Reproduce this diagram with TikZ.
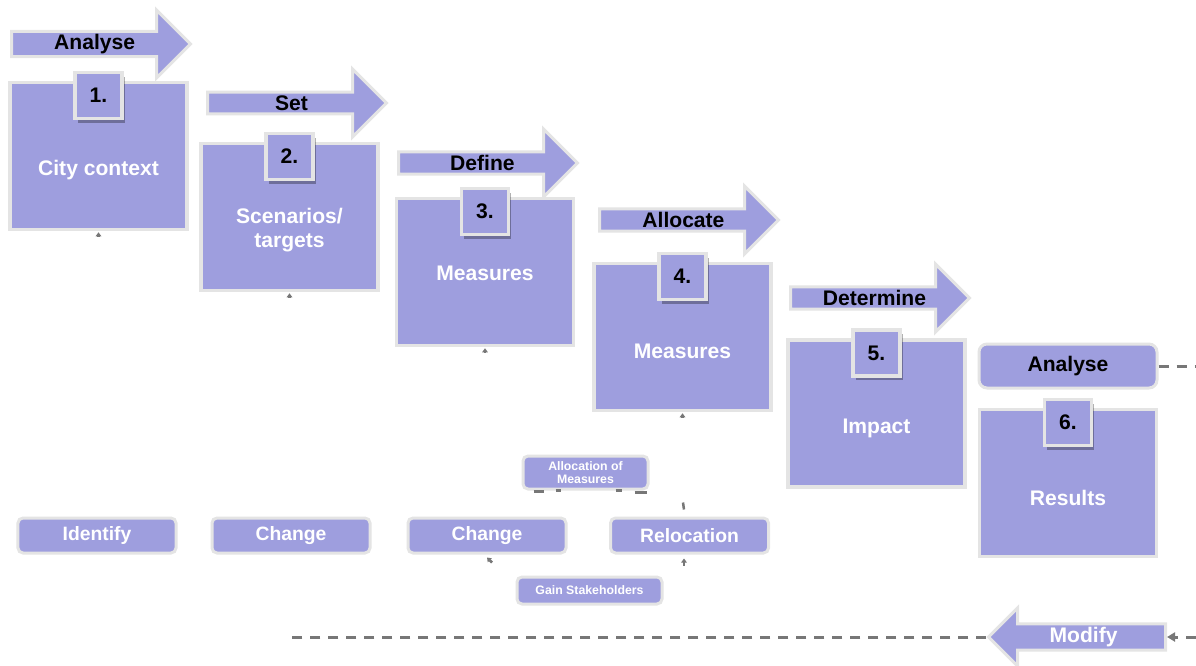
\documentclass[tikz,border=0pt]{standalone}
\usepackage{fontspec}
\setmainfont{Liberation Sans}
\usetikzlibrary{shapes.arrows,shadows,arrows.meta,positioning}
\definecolor{lav}{HTML}{9E9EDE}
\definecolor{rim}{HTML}{E4E4E4}
\definecolor{dashgray}{HTML}{777777}

\begin{document}
\begin{tikzpicture}
  [x=0.2mm,y=-0.2mm,
  stage/.style={rectangle,draw=rim,fill=lav,line width=0.7mm,
                inner sep=0pt,minimum width=35.4mm,minimum height=29.4mm},
  number/.style={rectangle,draw=rim,fill=lav,line width=0.7mm,
                 inner sep=0pt,minimum width=9.4mm,minimum height=9.2mm,
                 font=\bfseries\fontsize{12}{14}\selectfont,
                 drop shadow={shadow xshift=0.5mm,shadow yshift=-0.8mm,
                              fill=black,opacity=0.3}},
  stagetext/.style={text=white,align=center,
                    font=\bfseries\fontsize{12}{14}\selectfont},
  action/.style={single arrow,draw=rim,fill=lav,line width=0.6mm,
                 inner sep=0pt,minimum height=35.8mm,minimum width=13.6mm,
                 single arrow head extend=3.8mm,anchor=tail,
                 font=\bfseries\fontsize{12}{14}\selectfont},
  task/.style={rectangle,rounded corners=1mm,draw=rim,fill=lav,
               line width=0.6mm,inner sep=0pt,minimum width=31.6mm,
               minimum height=7mm,text=white,
               font=\bfseries\fontsize{11}{13}\selectfont},
  minitask/.style={task,align=center,
                   font=\bfseries\fontsize{7}{7.6}\selectfont},
  link/.style={dashgray,line width=0.6mm,dash pattern=on 2mm off 1.6mm},
  stub/.style={dashgray,line width=0.5mm}]

  \useasboundingbox (0,0) rectangle (1196,666);

  % steps 1 to 5
  \node[action] (analyse)  at (10,44)  {Analyse};
  \node[action] (set)      at (206,103) {Set};
  \node[action] (define)   at (397,163) {Define};
  \node[action] (allocate) at (598,220) {Allocate};
  \node[action] (determine) at (789,298) {Determine};

  \node[stage] (s1) at (98.5,156)  {};
  \node[stage] (s2) at (289.5,217) {};
  \node[stage] (s3) at (485,272)   {};
  \node[stage] (s4) at (682.5,337) {};
  \node[stage] (s5) at (876.5,413.5) {};
  \node[stage] (s6) at (1068,483)  {};

  \node[number] (n1) [below=-2mm of s1.north] {1.};
  \node[number] (n2) [below=-2mm of s2.north] {2.};
  \node[number] (n3) [below=-2mm of s3.north] {3.};
  \node[number] (n4) [below=-2mm of s4.north] {4.};
  \node[number] (n5) [below=-2mm of s5.north] {5.};
  \node[number] (n6) [below=-2mm of s6.north] {6.};

  \node[stagetext] (t1) at ([yshift=-2.9mm]s1.center) {City context};
  \node[stagetext] (t2) at ([yshift=-2.6mm]s2.center) {Scenarios/\\targets};
  \node[stagetext] (t3) at ([yshift=-0.3mm]s3.center) {Measures};
  \node[stagetext] (t4) at ([yshift=-2.9mm]s4.center) {Measures};
  \node[stagetext] (t5) at ([yshift=-2.9mm]s5.center) {Impact};
  \node[stagetext] (t6) at ([yshift=-2.9mm]s6.center) {Results};

  % step 6 and the way back
  \node[task,text=black,minimum width=35.6mm,minimum height=8.8mm,
        rounded corners=1.6mm,font=\bfseries\fontsize{12}{14}\selectfont]
        (review) at (1068,366) {Analyse};
  \node[action,shape border rotate=180,text=white,minimum height=35.4mm,
        minimum width=11.6mm,single arrow head extend=2.7mm]
        (modify) at (1167,637) {Modify};

  \coordinate (outR) at (1196,366);
  \coordinate (inR)  at (1196,637);
  \coordinate (back) at (290,637);
  \draw[link] (review.east) -- (outR);
  \draw[link,-{Triangle[length=1.6mm,width=1.8mm]}] (inR) -- (modify.tail);
  \draw[link] (modify.tip) -- (back);

  % tasks
  \node[task] (identify) at (97,535.5)  {Identify};
  \node[task] (chg2)     at (291,535.5) {Change};
  \node[task] (chg3)     at (487,535.5) {Change};
  \node[task] (reloc)    at (689.5,535.5) {Relocation};
  \node[minitask,minimum width=25mm,minimum height=6.6mm]
       (alloc) at (585.5,472.5) {Allocation of\\Measures};
  \node[minitask,minimum width=29mm,minimum height=5.4mm]
       (gain) at (589.5,590.5) {Gain Stakeholders};

  % what shows of the links
  \foreach \s in {s1,s2,s3,s4}
    \draw[stub,-{Triangle[length=0.8mm,width=1.1mm]}]
      ([yshift=-1.1mm]\s.south) -- ([yshift=-0.2mm]\s.south);
  \draw[stub] ([shift={(12,1)}]alloc.south west) -- ([shift={(22,1)}]alloc.south west);
  \draw[stub] ([shift={(34,0)}]alloc.south west) -- ([shift={(39,0)}]alloc.south west);
  \draw[stub] ([shift={(-34,0)}]alloc.south east) -- ([shift={(-28,0)}]alloc.south east);
  \draw[stub] ([shift={(-15,2)}]alloc.south east) -- ([shift={(-3,2)}]alloc.south east);
  \draw[stub] ([shift={(-6.5,-14)}]reloc.north) -- ([shift={(-5.5,-7)}]reloc.north);
  \draw[stub,-{Triangle[length=0.8mm,width=1.1mm]}]
    ([shift={(-5.5,11)}]reloc.south) -- ([shift={(-5.5,4)}]reloc.south);
  \draw[stub,-{Triangle[length=0.8mm,width=1.1mm]}]
    ([shift={(5,8)}]chg3.south) -- ([shift={(0,3)}]chg3.south);
\end{tikzpicture}
\end{document}
